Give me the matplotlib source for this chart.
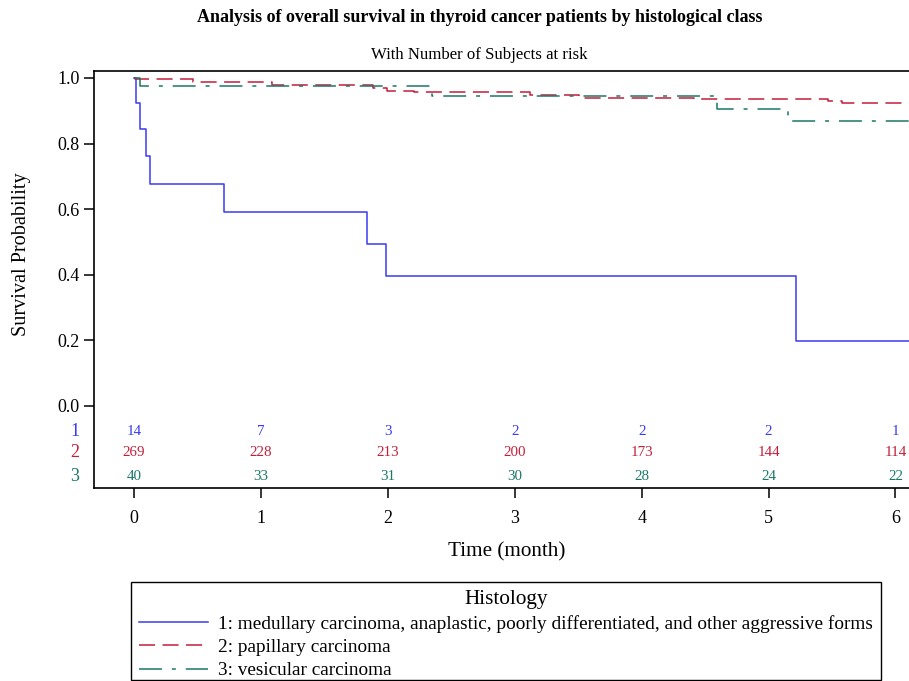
import matplotlib
matplotlib.use("Agg")
import matplotlib.pyplot as plt
from matplotlib.lines import Line2D
from matplotlib.patches import Rectangle

plt.rcParams['font.family'] = ['Liberation Serif', 'DejaVu Serif']

# ---- data ----
blue_t = [0, 0.013, 0.047, 0.095, 0.129, 0.712, 1.836, 1.986, 5.217, 6.2]
blue_s = [1.0, 0.923, 0.846, 0.761, 0.677, 0.592, 0.493, 0.395, 0.197, 0.197]

red_t = [0, 0.01, 0.467, 1.09, 1.88, 1.99, 2.21, 3.12, 3.51, 4.41, 5.47, 5.58, 6.2]
red_s = [1.0, 0.997, 0.988, 0.979, 0.970, 0.961, 0.956, 0.947, 0.940, 0.935, 0.929, 0.923, 0.923]

green_t = [0, 0.047, 2.35, 4.59, 5.15, 6.2]
green_s = [1.0, 0.976, 0.944, 0.905, 0.869, 0.869]

risk_times = [0, 1, 2, 3, 4, 5, 6]
risk_1 = [14, 7, 3, 2, 2, 2, 1]
risk_2 = [269, 228, 213, 200, 173, 144, 114]
risk_3 = [40, 33, 31, 30, 28, 24, 22]

labels = ["1: medullary carcinoma, anaplastic, poorly differentiated, and other aggressive forms",
          "2: papillary carcinoma",
          "3: vesicular carcinoma"]
row_names = ["1", "2", "3"]

c_blue = '#3a3af5'
c_red = '#c41e3a'
c_green = '#1b7766'

dash_red = (10.5, 4.9)
dash_green = (15, 6.5, 2.6, 6.5)

W, H = 909, 681
fig = plt.figure(figsize=(W / 100, H / 100), dpi=100)
ax = fig.add_axes([94 / W, 1 - 488 / H, (915 - 94) / W, (488 - 71) / H])

ax.step(blue_t, blue_s, where='post', color=c_blue, lw=1.1)
ax.step(red_t, red_s, where='post', color=c_red, lw=1.1, dashes=dash_red)
ax.step(green_t, green_s, where='post', color=c_green, lw=1.1, dashes=dash_green)

ax.set_xlim(-0.315, 6.154)
ax.set_ylim(-0.25, 1.0213)
ax.set_xticks(risk_times)
ax.set_yticks([0, 0.2, 0.4, 0.6, 0.8, 1.0])
ax.set_yticklabels(['0.0', '0.2', '0.4', '0.6', '0.8', '1.0'])
ax.tick_params(direction='out', length=7.5, width=1.1, labelsize=13, pad=3)
ax.tick_params(axis='x', pad=8)
for sp in ax.spines.values():
    sp.set_linewidth(1.2)

row_y = [-0.079, -0.143, -0.216]
for vals, y, c, name in zip([risk_1, risk_2, risk_3], row_y, [c_blue, c_red, c_green], row_names):
    for t, v in zip(risk_times, vals):
        ax.text(t, y, str(v), color=c, ha='center', va='center', fontsize=10.8)
    ax.annotate(name, xy=(0, y), xycoords=('axes fraction', 'data'),
                xytext=(-19, 0), textcoords='offset pixels',
                ha='center', va='center', color=c, fontsize=13)

fig.text(0.528, 1 - 18 / H, "Analysis of overall survival in thyroid cancer patients by histological class",
         ha='center', va='center', fontsize=13, fontweight='bold')
fig.text(0.5275, 1 - 55 / H, "With Number of Subjects at risk", ha='center', va='center', fontsize=12.1)
fig.text(507 / W, 1 - 552 / H, "Time (month)", ha='center', va='center', fontsize=15.2)
fig.text(22 / W, 1 - 254 / H, "Survival Probability", ha='center', va='center', rotation=90, fontsize=14.6)

handles = [Line2D([], [], color=c_blue, lw=1.1),
           Line2D([], [], color=c_red, lw=1.1, dashes=dash_red),
           Line2D([], [], color=c_green, lw=1.1, dashes=dash_green)]
leg = fig.legend(handles, labels, title="Histology", loc='upper left',
                 bbox_to_anchor=(131 / W, 1 - 582 / H, (881 - 131) / W, 0.0), mode='expand',
                 fontsize=13.9, title_fontsize=15.3, handlelength=3.55, handletextpad=0.55,
                 borderpad=0.42, labelspacing=0.3, borderaxespad=0, frameon=False)
fig.add_artist(Rectangle((131 / W, 1 - 680 / H), (881 - 131) / W, (680 - 582) / H,
                         transform=fig.transFigure, fill=False, edgecolor='black', lw=1.0))

fig.savefig("out.png", dpi=100)
